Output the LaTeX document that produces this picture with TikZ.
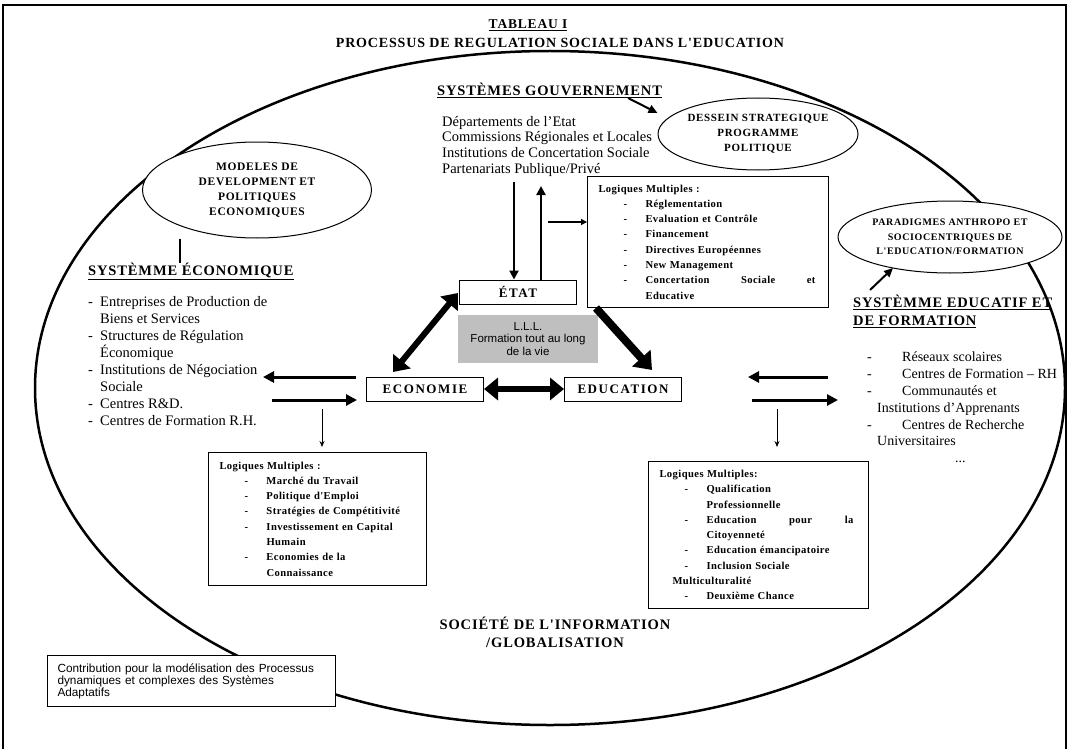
\documentclass[tikz,border=0pt]{standalone}
\usepackage{fontspec}
\setmainfont{Liberation Serif}
\setsansfont{Liberation Sans}
\newfontfamily\headfont[LetterSpace=6]{Liberation Serif}
\newfontfamily\boxfont[LetterSpace=12]{Liberation Serif}
\newfontfamily\logfont[LetterSpace=4]{Liberation Serif}
\usetikzlibrary{arrows.meta,shapes.geometric}

% puces des listes
\newcommand{\li}[1]{\hspace*{25pt}\makebox[22pt][l]{-}#1}
\newcommand{\suite}[1]{\hspace*{47pt}#1}

\tikzset{
  sysbox/.style={draw,line width=1pt,minimum width=117pt,minimum height=24pt,inner sep=0pt,
    font=\boxfont\bfseries\fontsize{13}{13}\selectfont},
  bubble/.style={draw,ellipse,fill=white,line width=1pt,inner sep=-8pt,align=center,
    font=\headfont\bfseries\fontsize{11}{15}\selectfont},
  logbox/.style={draw,line width=1pt,anchor=north west,align=left,inner xsep=11pt,inner ysep=6pt,
    font=\logfont\bfseries\fontsize{10.6}{15.3}\selectfont},
  heading/.style={anchor=north west,inner sep=0pt,align=left,
    font=\headfont\bfseries\fontsize{14.5}{18}\selectfont},
  liste/.style={anchor=north west,inner sep=0pt,align=left},
  fat/.style={line width=6pt,{Triangle[length=14pt,width=22pt]}-{Triangle[length=14pt,width=22pt]}},
  side/.style={line width=3pt,-{Triangle[length=11pt,width=11pt]}},
  thin/.style={line width=0.9pt,-{Stealth[length=6pt,width=5pt]}}
}

\begin{document}
\begin{tikzpicture}[x=1pt,y=-1pt]
\useasboundingbox (0,0) rectangle (1070,749);
% cadre
\draw[line width=2pt] (3,760) -- (3,5) -- (1066,5) -- (1066,760);
\draw[line width=2.5pt] (550,388) ellipse [x radius=515,y radius=337];

% titre
\node (titre) at (528,25) {\headfont\bfseries\fontsize{13.5}{13}\selectfont\underline{TABLEAU I}};
\node (soustitre) at (560,43) {\headfont\bfseries\fontsize{14}{13}\selectfont PROCESSUS DE REGULATION SOCIALE DANS L'EDUCATION};

% gouvernement
\node[heading] (gouv) at (437,83) {\underline{SYSTÈMES GOUVERNEMENT}};
\node[liste,font=\fontsize{14.5}{15.7}\selectfont] (gouvliste) at (442,116)
  {Départements de l'Etat\\Commissions Régionales et Locales\\Institutions de Concertation Sociale\\Partenariats Publique/Privé};
\node[bubble,minimum width=200pt,minimum height=72pt] (dessein) at (758,134)
  {DESSEIN STRATEGIQUE\\PROGRAMME\\POLITIQUE};
\coordinate (d0) at (628,98);
\draw[line width=2pt,-{Triangle[length=9pt,width=8pt]}] (d0) -- (dessein.west |- 0,113);

% boites centrales
\node[sysbox] (etat) at (518,292) {\raisebox{-2pt}{ÉTAT}};
\node[sysbox] (eco) at (425,389) {\raisebox{-3pt}{ECONOMIE}};
\node[sysbox] (edu) at (623,389) {\raisebox{-3pt}{EDUCATION}};
\node[fill=black!25,minimum width=140pt,minimum height=48pt,inner sep=0pt,align=center,
  font=\sffamily\fontsize{11.5}{12.5}\selectfont] (lll) at (528,339) {L.L.L.\\Formation tout au long\\de la vie};

\coordinate (e1) at (458,293);
\coordinate (e2) at (393,372);
\coordinate (e3) at (596,308);
\coordinate (e4) at (652,370);
\draw[fat] (eco) -- (edu);
\draw[fat] (e1) -- (e2);
\draw[line width=8pt,-{Triangle[length=16pt,width=24pt]}] (e3) -- (e4);

% gouvernement <-> etat
\coordinate (g1) at (514,182);
\coordinate (g2) at (541,186);
\draw[line width=2.5pt,-{Triangle[length=9pt,width=9pt]}] (g1) -- (etat.north -| g1);
\draw[line width=2.5pt,-{Triangle[length=9pt,width=9pt]}] (etat.north -| g2) -- (g2);

% logiques gouvernement
\node[logbox,text width=219pt,minimum height=131pt] (loggouv) at (587,176)
  {Logiques Multiples :\\\li{Réglementation}\\\li{Evaluation et Contrôle}\\\li{Financement}\\\li{Directives Européennes}\\\li{New Management}\\\li{\makebox[170pt][l]{Concertation\hfill Sociale\hfill et}}\\\suite{Educative}};
\coordinate (l1) at (548,222);
\draw[line width=1.2pt,-{Triangle[length=6pt,width=6pt]}] (l1) -- (loggouv.west |- l1);

% systeme economique
\node[bubble,font=\headfont\bfseries\fontsize{11.5}{15}\selectfont,minimum width=229pt,minimum height=96pt] (modeles) at (257,190)
  {MODELES DE\\DEVELOPMENT ET\\POLITIQUES\\ECONOMIQUES};
\node[heading] (syseco) at (88,263) {\underline{SYSTÈMME ÉCONOMIQUE}};
\draw[line width=1.5pt] (modeles.south -| 180,0) -- (syseco.north -| 180,0);
\node[liste,font=\fontsize{14.5}{17.1}\selectfont] (ecoliste) at (88,296)
  {\makebox[12pt][l]{-}Entreprises de Production de\\\hspace*{12pt}Biens et Services\\
   \makebox[12pt][l]{-}Structures de Régulation\\\hspace*{12pt}Économique\\
   \makebox[12pt][l]{-}Institutions de Négociation\\\hspace*{12pt}Sociale\\
   \makebox[12pt][l]{-}Centres R\&D.\\\makebox[12pt][l]{-}Centres de Formation R.H.};
\coordinate (a1) at (356,377);
\coordinate (a2) at (263,377);
\coordinate (a3) at (272,400);
\coordinate (a4) at (357,400);
\draw[side] (a1) -- (a2);
\draw[side] (a3) -- (a4);

% logiques economie
\coordinate (b1) at (322,409);
\node[logbox,text width=196pt,minimum height=133pt] (logeco) at (208,452)
  {Logiques Multiples :\\\li{Marché du Travail}\\\li{Politique d'Emploi}\\\li{Stratégies de Compétitivité}\\\li{Investissement en Capital}\\\suite{Humain}\\\li{Economies de la}\\\suite{Connaissance}};
\draw[thin] (b1) -- (b1 |- 0,447);

% systeme educatif
\node[bubble,font=\headfont\bfseries\fontsize{10}{14.5}\selectfont,minimum width=224pt,minimum height=72pt] (paradigmes) at (950,237)
  {PARADIGMES ANTHROPO ET\\SOCIOCENTRIQUES DE\\L'EDUCATION/FORMATION};
\node[heading] (sysedu) at (853,295) {\underline{SYSTÈMME EDUCATIF ET}\\\underline{DE FORMATION}};
\coordinate (p0) at (870,290);
\draw[line width=2pt,-{Triangle[length=9pt,width=8pt]}] (p0) -- (893,268);
\node[liste,font=\fontsize{14}{16.8}\selectfont] (eduliste) at (867,352)
  {\makebox[35pt][l]{-}Réseaux scolaires\\\makebox[35pt][l]{-}Centres de Formation -- RH\\
   \makebox[35pt][l]{-}Communautés et\\\hspace*{10pt}Institutions d'Apprenants\\
   \makebox[35pt][l]{-}Centres de Recherche\\\hspace*{10pt}Universitaires\\\hspace*{88pt}...};
\coordinate (c1) at (828,377);
\coordinate (c2) at (748,377);
\coordinate (c3) at (752,400);
\coordinate (c4) at (838,400);
\draw[side] (c1) -- (c2);
\draw[side] (c3) -- (c4);

% logiques education
\coordinate (f1) at (777,409);
\node[logbox,text width=198pt,minimum height=147pt] (logedu) at (648,461)
  {Logiques Multiples:\\\li{Qualification}\\\suite{Professionnelle}\\\li{\makebox[147pt][l]{Education\hfill pour\hfill la}}\\\suite{Citoyenneté}\\\li{Education émancipatoire}\\\li{Inclusion Sociale}\\\hspace*{13pt}Multiculturalité\\\li{Deuxième Chance}};
\draw[thin] (f1) -- (f1 |- 0,447);

% bas
\node[font=\headfont\bfseries\fontsize{14.5}{18}\selectfont,align=center] (societe) at (555,632)
  {SOCIÉTÉ DE L'INFORMATION\\/GLOBALISATION};
\node[draw,line width=1pt,anchor=north west,text width=268pt,minimum height=51pt,align=left,inner xsep=10pt,inner ysep=4pt,
  fill=white,font=\sffamily\fontsize{11.8}{12}\selectfont] (contrib) at (47,655)
  {Contribution pour la modélisation des Processus\\dynamiques et complexes des Systèmes\\Adaptatifs};
\end{tikzpicture}
\end{document}
